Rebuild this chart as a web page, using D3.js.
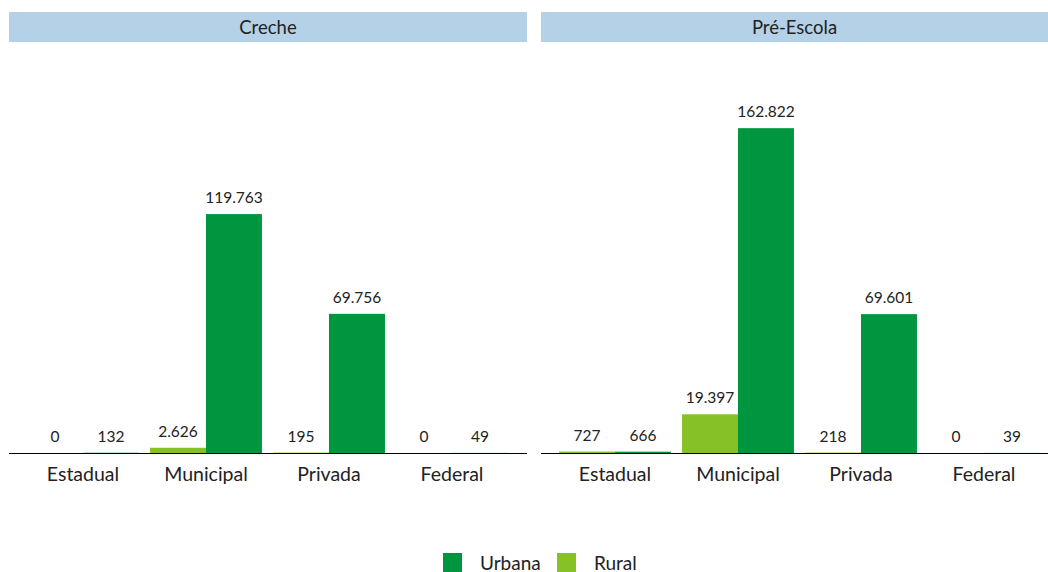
<!DOCTYPE html>
<html>
<head>
<meta charset="utf-8">
<script src="https://cdn.jsdelivr.net/npm/d3@7.9.0/dist/d3.min.js"></script>
<style>
  body { margin: 0; background: #fff; }
  text { font-family: Lato, "Open Sans", sans-serif; fill: #222; }
</style>
</head>
<body>
<svg width="1048" height="572"></svg>
<script>
const panels = ["Creche", "Pré-Escola"];
const categories = ["Estadual", "Municipal", "Privada", "Federal"];
const series = ["Rural", "Urbana"];
const rural = [[0, 2626, 195, 0], [727, 19397, 218, 0]];
const urbana = [[132, 119763, 69756, 49], [666, 162822, 69601, 39]];

const colors = { Urbana: "#009640", Rural: "#86c226" };
const fmt = d3.formatLocale({ decimal: ",", thousands: ".", grouping: [3], currency: ["", ""] }).format(",d");

const svg = d3.select("svg");
const base = 453;
const y = d3.scaleLinear().domain([0, 200000]).range([base, 54]);

const panelBox = [
  { x0: 9, x1: 527, r0: 21.5, r1: 513.5 },
  { x0: 541, x1: 1048, r0: 553.5, r1: 1045.5 }
];

panels.forEach((name, p) => {
  const box = panelBox[p];
  const g = svg.append("g");

  g.append("rect")
    .attr("x", box.x0).attr("y", 12)
    .attr("width", box.x1 - box.x0).attr("height", 30)
    .attr("fill", "#b4d1e7");
  g.append("text")
    .attr("x", (box.x0 + box.x1) / 2).attr("y", 27)
    .attr("text-anchor", "middle").attr("dominant-baseline", "central")
    .style("font-size", "18.5px")
    .text(name);

  const x = d3.scaleBand().domain(categories).range([box.r0, box.r1])
    .paddingInner(0.09).paddingOuter(0.045);
  const xs = d3.scaleBand().domain(series).range([0, x.bandwidth()]);

  const rows = categories.map((c, i) => ({
    cat: c,
    vals: [{ s: "Rural", v: rural[p][i] }, { s: "Urbana", v: urbana[p][i] }]
  }));

  const grp = g.selectAll(".cat").data(rows).join("g")
    .attr("transform", d => `translate(${x(d.cat)},0)`);

  grp.selectAll("rect").data(d => d.vals).join("rect")
    .attr("x", d => xs(d.s))
    .attr("y", d => y(d.v))
    .attr("width", xs.bandwidth())
    .attr("height", d => base - y(d.v))
    .attr("fill", d => colors[d.s]);

  grp.selectAll("text").data(d => d.vals).join("text")
    .attr("x", d => xs(d.s) + xs.bandwidth() / 2)
    .attr("y", d => y(d.v) - 11)
    .attr("text-anchor", "middle")
    .style("font-size", "15.5px")
    .text(d => fmt(d.v));

  g.append("line")
    .attr("x1", box.x0).attr("x2", box.x1)
    .attr("y1", base + 0.5).attr("y2", base + 0.5)
    .attr("stroke", "#000").attr("stroke-width", 1);

  g.selectAll(".lab").data(categories).join("text")
    .attr("x", d => x(d) + x.bandwidth() / 2)
    .attr("y", 473)
    .attr("text-anchor", "middle").attr("dominant-baseline", "central")
    .style("font-size", "19.5px")
    .text(d => d);
});

// legend
const legend = [{ s: "Urbana", x: 443 }, { s: "Rural", x: 557 }];
const lg = svg.append("g");
legend.forEach(d => {
  lg.append("rect").attr("x", d.x).attr("y", 553).attr("width", 19).attr("height", 19)
    .attr("fill", colors[d.s]);
  lg.append("text").attr("x", d.x + 37).attr("y", 562)
    .attr("dominant-baseline", "central")
    .style("font-size", "19px")
    .text(d.s);
});
</script>
</body>
</html>
